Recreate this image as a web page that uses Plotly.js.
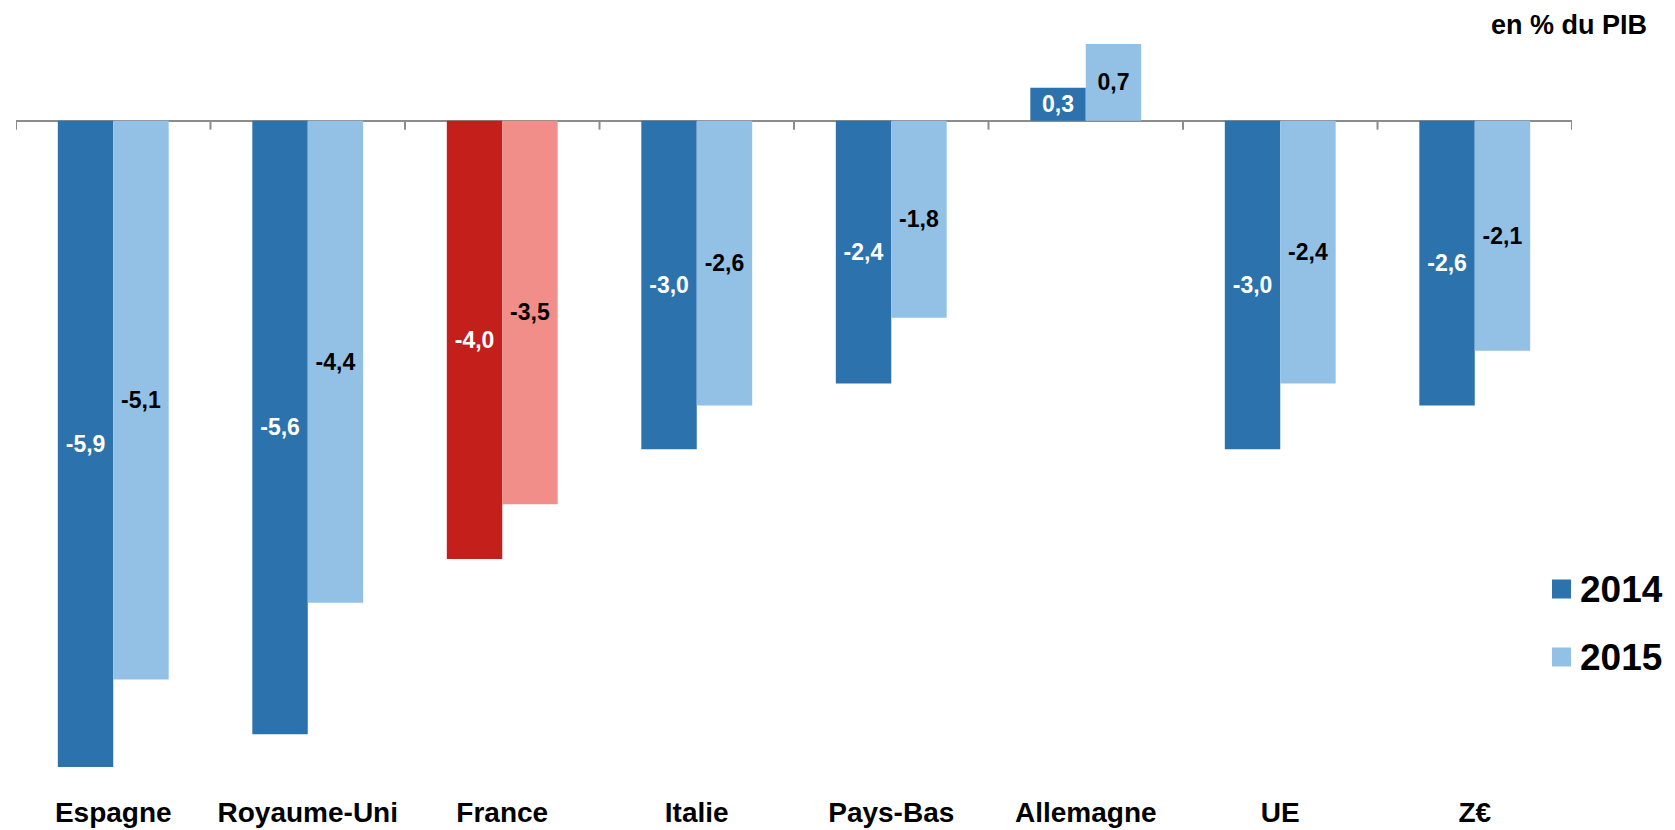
<!DOCTYPE html>
<html>
<head>
<meta charset="utf-8">
<script src="https://cdn.plot.ly/plotly-3.0.1.min.js"></script>
<style>
  html, body { margin: 0; padding: 0; background: #ffffff; }
  #chart { width: 1675px; height: 830px; }
</style>
</head>
<body>
<div id="chart"></div>
<script>
// Budget balance by country, in % of GDP
const categories = ['Espagne', 'Royaume-Uni', 'France', 'Italie', 'Pays-Bas', 'Allemagne', 'UE', 'Z€'];
const years = ['2014', '2015'];
const values2014 = [-5.9, -5.6, -4.0, -3.0, -2.4, 0.3, -3.0, -2.6];
const values2015 = [-5.1, -4.4, -3.5, -2.6, -1.8, 0.7, -2.4, -2.1];
const unitLabel = 'en % du PIB';
const highlighted = 'France';

// Palette: blue pair for every country, red pair for the highlighted one
const colors = {
  '2014': { base: '#2c72ac', hi: '#c41f1a', text: '#ffffff' },
  '2015': { base: '#93c0e5', hi: '#f18e89', text: '#000000' }
};
const axisGrey = '#8c8c8c';

const FONT = 'Liberation Sans, Arial, Helvetica, sans-serif';
const W = 1675, H = 830;
const M = { l: 16, r: 103, t: 33, b: 40 };
const yRange = [-6.109, 0.8];
const xRange = [-0.5, categories.length - 0.5];
const plotW = W - M.l - M.r;
const plotH = H - M.t - M.b;
// pixel -> paper helpers for the decorations placed around the plot
const px2x = p => (p - M.l) / plotW;
const px2y = p => (H - M.b - p) / plotH;

const fmt = v => v.toFixed(1).replace('.', ',');

function barTrace(year, vals) {
  const c = colors[year];
  return {
    type: 'bar',
    name: year,
    x: categories,
    y: vals,
    text: vals.map(fmt),
    textposition: 'inside',
    insidetextanchor: 'middle',
    textangle: 0,
    constraintext: 'none',
    insidetextfont: { family: FONT, size: 23, weight: 700, color: c.text },
    marker: {
      color: categories.map(k => (k === highlighted ? c.hi : c.base)),
      line: { width: 0 }
    },
    hoverinfo: 'skip',
    showlegend: false
  };
}

const data = [barTrace('2014', values2014), barTrace('2015', values2015)];

// category separators hanging below the zero line
const boundaries = categories.map((_, i) => i - 0.5).concat([categories.length - 0.5]);
const shapes = boundaries.map(b => ({
  type: 'line', xref: 'x', yref: 'y',
  ysizemode: 'pixel', yanchor: 0,
  x0: b, x1: b, y0: 0, y1: -9,
  line: { color: axisGrey, width: 2 },
  layer: 'above'
}));

// hand-built legend with large swatches
const legendRows = [
  { year: '2014', cy: 589 },
  { year: '2015', cy: 657 }
];
const sw = 19;
legendRows.forEach(r => shapes.push({
  type: 'rect', xref: 'paper', yref: 'paper',
  x0: px2x(1552), x1: px2x(1552 + sw),
  y0: px2y(r.cy + sw / 2), y1: px2y(r.cy - sw / 2),
  fillcolor: colors[r.year].base, line: { width: 0 }
}));
const annotations = legendRows.map(r => ({
  xref: 'paper', yref: 'paper',
  x: px2x(1578), y: px2y(r.cy),
  xanchor: 'left', yanchor: 'middle',
  text: r.year, showarrow: false,
  font: { family: FONT, size: 37, weight: 700, color: '#000000' }
}));
annotations.push({
  xref: 'paper', yref: 'paper',
  x: px2x(1649), y: px2y(25),
  xanchor: 'right', yanchor: 'middle',
  text: unitLabel, showarrow: false,
  font: { family: FONT, size: 27, weight: 700, color: '#000000' }
});

const layout = {
  width: W, height: H,
  margin: M,
  paper_bgcolor: '#ffffff',
  plot_bgcolor: '#ffffff',
  barmode: 'group',
  bargap: 0.43,
  bargroupgap: 0,
  showlegend: false,
  font: { family: FONT, color: '#000000' },
  xaxis: {
    type: 'category',
    range: xRange,
    showline: false, showgrid: false, zeroline: false,
    ticks: '',
    ticklabelstandoff: 3,
    tickfont: { family: FONT, size: 28, weight: 700, color: '#000000' },
    fixedrange: true
  },
  yaxis: {
    range: yRange,
    showgrid: false, showline: false,
    zeroline: true, zerolinecolor: axisGrey, zerolinewidth: 2,
    showticklabels: false, ticks: '',
    fixedrange: true
  },
  shapes: shapes,
  annotations: annotations
};

Plotly.newPlot('chart', data, layout, { displayModeBar: false, staticPlot: true });
</script>
</body>
</html>
